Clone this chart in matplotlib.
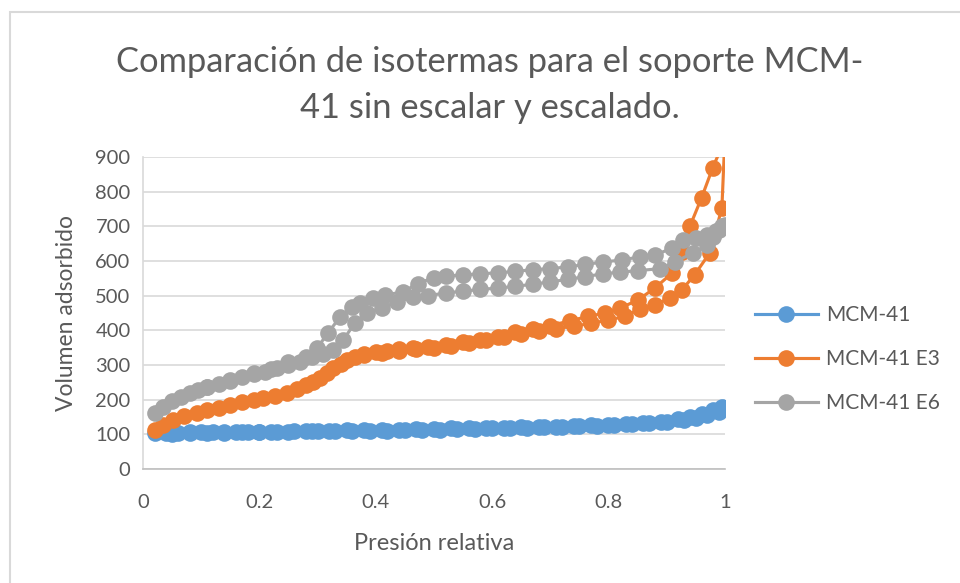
import matplotlib.pyplot as plt
from matplotlib.patches import Rectangle

# relative pressure / adsorbed volume, adsorption branch then desorption branch
p_mcm41 = [0.02, 0.04, 0.06, 0.08, 0.10, 0.12, 0.14, 0.16, 0.18, 0.20, 0.22, 0.25,
           0.28, 0.30, 0.33, 0.36, 0.39, 0.42, 0.45, 0.48, 0.51, 0.54, 0.57, 0.60,
           0.63, 0.66, 0.69, 0.72, 0.75, 0.78, 0.81, 0.84, 0.87, 0.90, 0.93, 0.95,
           0.97, 0.99, 1.00,
           0.995, 0.98, 0.96, 0.94, 0.92, 0.89, 0.86, 0.83, 0.80, 0.77, 0.74, 0.71,
           0.68, 0.65, 0.62, 0.59, 0.56, 0.53, 0.50, 0.47, 0.44, 0.41, 0.38, 0.35,
           0.32, 0.29, 0.26, 0.23, 0.20, 0.17, 0.14, 0.11, 0.08, 0.05]
v_mcm41 = [104, 105, 105, 106, 106, 106, 107, 107, 107, 108, 108, 108,
           109, 109, 110, 110, 111, 111, 112, 113, 114, 115, 116, 117,
           118, 119, 120, 122, 123, 125, 127, 129, 132, 136, 141, 147,
           155, 165, 175,
           178, 170, 160, 150, 143, 137, 133, 130, 128, 126, 124, 122,
           121, 120, 119, 118, 117, 117, 116, 115, 114, 113, 113, 112,
           111, 110, 109, 108, 107, 106, 105, 104, 103, 100]

p_e3 = [0.02, 0.035, 0.052, 0.07, 0.092, 0.11, 0.13, 0.15, 0.17, 0.19, 0.207, 0.227,
        0.247, 0.265, 0.28, 0.293, 0.304, 0.316, 0.327, 0.34, 0.35, 0.365, 0.38, 0.40,
        0.42, 0.44, 0.464, 0.49, 0.52, 0.55, 0.58, 0.61, 0.64, 0.67, 0.70, 0.734,
        0.765, 0.794, 0.82, 0.85, 0.88, 0.909, 0.926, 0.94, 0.96, 0.979, 1.00,
        0.995, 0.974, 0.948, 0.926, 0.905, 0.88, 0.854, 0.828, 0.80, 0.77, 0.74,
        0.71, 0.68, 0.65, 0.62, 0.59, 0.56, 0.53, 0.50, 0.47, 0.44, 0.41, 0.38]
v_e3 = [113, 128, 141, 152, 163, 170, 177, 185, 192, 199, 205, 212,
        220, 230, 243, 252, 262, 276, 291, 303, 314, 324, 331, 337,
        341, 345, 349, 352, 358, 366, 373, 381, 395, 405, 413, 428,
        440, 450, 464, 487, 522, 565, 626, 700, 782, 868, 950,
        753, 623, 560, 516, 493, 473, 462, 440, 430, 420, 412,
        405, 398, 390, 380, 372, 363, 356, 350, 345, 340, 335, 330]

p_e6 = [0.02, 0.035, 0.05, 0.065, 0.08, 0.095, 0.11, 0.13, 0.15, 0.17, 0.19, 0.21,
        0.23, 0.25, 0.27, 0.29, 0.31, 0.326, 0.344, 0.364, 0.385, 0.41, 0.436, 0.464,
        0.49, 0.52, 0.55, 0.58, 0.61, 0.64, 0.67, 0.70, 0.73, 0.76, 0.79, 0.82,
        0.85, 0.888, 0.914, 0.945, 0.969, 0.98, 0.99, 1.00,
        0.995, 0.985, 0.97, 0.95, 0.928, 0.909, 0.88, 0.854, 0.823, 0.79, 0.76, 0.73,
        0.70, 0.67, 0.64, 0.61, 0.58, 0.55, 0.52, 0.50, 0.472, 0.447, 0.416, 0.396,
        0.373, 0.359, 0.339, 0.318, 0.299, 0.28, 0.25, 0.22, 0.19, 0.15, 0.11]
v_e6 = [163, 180, 197, 208, 218, 228, 236, 246, 255, 264, 274, 281,
        290, 300, 310, 322, 333, 342, 372, 421, 450, 464, 482, 496,
        500, 508, 513, 518, 522, 527, 533, 540, 547, 555, 563, 568,
        572, 578, 597, 623, 646, 670, 690, 705,
        700, 688, 675, 665, 660, 637, 617, 612, 603, 597, 590, 583,
        578, 575, 570, 566, 563, 560, 556, 552, 535, 511, 502, 493,
        478, 468, 439, 393, 348, 323, 308, 288, 277, 258, 238]

series = [("MCM-41", p_mcm41, v_mcm41, "#5B9BD5"),
          ("MCM-41 E3", p_e3, v_e3, "#ED7D31"),
          ("MCM-41 E6", p_e6, v_e6, "#A5A5A5")]

plt.rcParams["font.family"] = ["Lato", "DejaVu Sans"]
text_color = "#595959"
grid_color = "#D9D9D9"

fig = plt.figure(figsize=(9.6, 5.83), dpi=100)
fig.patches.append(Rectangle((10 / 960, -0.1), 1.2, 1.1 - 12 / 583, transform=fig.transFigure,
                             fill=False, edgecolor="#D9D9D9", linewidth=1.5))
ax = fig.add_axes([0.149, 0.1955, 0.606, 0.5352])

for name, p, v, color in series:
    ax.plot(p, v, color=color, linewidth=2.25, marker="o", markersize=12,
            markeredgewidth=0, label=name)

ax.set_xlim(0, 1)
ax.set_ylim(0, 900)
ax.set_xticks([0, 0.2, 0.4, 0.6, 0.8, 1])
ax.set_xticklabels(["0", "0.2", "0.4", "0.6", "0.8", "1"])
ax.set_yticks(range(0, 901, 100))
ax.tick_params(length=0, labelsize=14.5, labelcolor=text_color)
ax.tick_params(axis="x", pad=18)
ax.tick_params(axis="y", pad=9)
ax.grid(axis="y", color=grid_color, linewidth=1.2)
ax.set_axisbelow(True)
for side in ["top", "right"]:
    ax.spines[side].set_visible(False)
ax.spines["left"].set_color(grid_color)
ax.spines["bottom"].set_color("#BFBFBF")
ax.spines["left"].set_linewidth(1.2)
ax.spines["bottom"].set_linewidth(1.2)

ax.set_xlabel("Presión relativa", fontsize=17, color=text_color, labelpad=16)
ax.set_ylabel("Volumen adsorbido", fontsize=16.5, color=text_color, labelpad=13)

fig.text(0.51, 0.854, "Comparación de isotermas para el soporte MCM-\n41 sin escalar y escalado.",
         ha="center", va="center", fontsize=24.8, color=text_color, linespacing=1.55)

ax.legend(loc="center left", bbox_to_anchor=(1.02, 0.353), frameon=False, fontsize=15,
          labelcolor=text_color, handlelength=3.0, handletextpad=0.4, labelspacing=1.15)

fig.savefig("out.png", dpi=100)
